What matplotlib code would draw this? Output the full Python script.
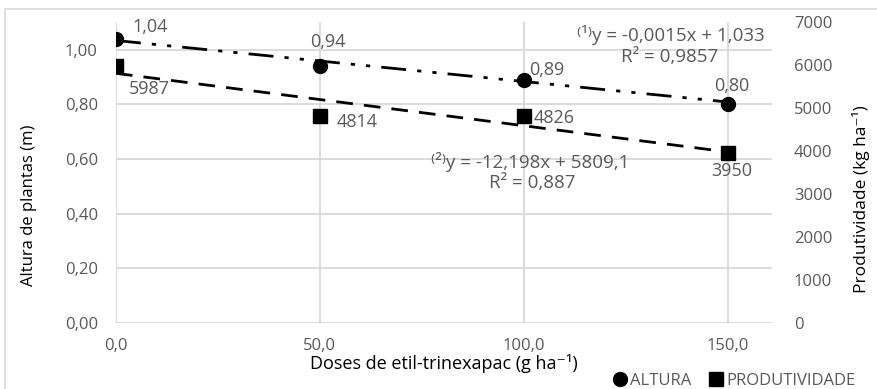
import matplotlib
matplotlib.use("Agg")
import matplotlib.pyplot as plt
from matplotlib.lines import Line2D
from matplotlib.patches import Rectangle

plt.rcParams['font.family'] = ['Open Sans', 'DejaVu Sans']

# dados
doses = [0, 50, 100, 150]
altura = [1.04, 0.94, 0.89, 0.80]
produtividade = [5987, 4814, 4826, 3950]
altura_lbl = ["1,04", "0,94", "0,89", "0,80"]
prod_lbl = ["5987", "4814", "4826", "3950"]
# tendências lineares (coeficientes da figura)
coef_alt = (-0.0015, 1.033)
coef_prod = (-12.198, 5809.1)

cinza = '#595959'
grade = '#d9d9d9'

fig = plt.figure(figsize=(8.78, 3.89), dpi=100)
fig.patches.append(Rectangle((5 / 878, -0.1), 1.2, 1 - 9 / 389 + 0.1,
                             transform=fig.transFigure, fill=False,
                             edgecolor=grade, lw=1.2))
ax = fig.add_axes([0.132, 0.170, 0.747, 0.773])
ax2 = ax.twinx()

ax.set_xlim(0, 160.8)
ax.set_ylim(0, 1.10)
ax2.set_ylim(0, 7000)

ax.set_xticks([0, 50, 100, 150])
ax.set_xticklabels(["0,0", "50,0", "100,0", "150,0"])
ax.set_yticks([0, 0.2, 0.4, 0.6, 0.8, 1.0])
ax.set_yticklabels(["0,00", "0,20", "0,40", "0,60", "0,80", "1,00"])
ax2.set_yticks(range(0, 7001, 1000))

for a in (ax, ax2):
    for s in a.spines.values():
        s.set_visible(False)
    a.tick_params(length=0, labelsize=12, colors=cinza)
ax.tick_params(axis='x', pad=11)
ax.tick_params(axis='y', pad=13)
ax2.tick_params(axis='y', pad=16)

ax.grid(True, color=grade, lw=1.3)
ax.set_axisbelow(True)

# linhas de tendência
xs = [doses[0], doses[-1]]
ax.plot(xs, [coef_alt[0] * x + coef_alt[1] for x in xs], color='black',
        lw=2, dashes=(9, 4, 1.5, 4, 1.5, 4), zorder=3)
ax2.plot(xs, [coef_prod[0] * x + coef_prod[1] for x in xs], color='black',
         lw=2, dashes=(6, 4), zorder=3)

ax.plot(doses, altura, 'o', color='black', ms=10, ls='none', zorder=4)
ax2.plot(doses, produtividade, 's', color='black', ms=10, ls='none', zorder=4)

# rótulos de dados
alt_off = [(12, 8), (6, 17), (4, 7), (3, 13)]
alt_ha = ['left', 'center', 'left', 'center']
for x, y, t, o, h in zip(doses, altura, altura_lbl, alt_off, alt_ha):
    ax.annotate(t, (x, y), xytext=o, textcoords='offset points', ha=h,
                va='center', fontsize=13, color=cinza)
prod_off = [(9, -17), (12, -4), (7, -2), (3, -13)]
prod_ha = ['left', 'left', 'left', 'center']
for x, y, t, o, h in zip(doses, produtividade, prod_lbl, prod_off, prod_ha):
    ax2.annotate(t, (x, y), xytext=o, textcoords='offset points', ha=h,
                 va='center', fontsize=13, color=cinza)

# equações
ax2.text(136, 6698, "⁽¹⁾y = -0,0015x + 1,033", ha='center',
         va='center', fontsize=13.5, color=cinza)
ax2.text(135.8, 6186, "R² = 0,9857", ha='center', va='center',
         fontsize=13.5, color=cinza)
ax2.text(101.5, 3744, "⁽²⁾y = -12,198x + 5809,1", ha='center', va='center',
         fontsize=13.5, color=cinza)
ax2.text(102.2, 3256, "R² = 0,887", ha='center', va='center', fontsize=13.5,
         color=cinza)

ax.set_ylabel("Altura de plantas (m)", fontsize=12, color='black')
ax.yaxis.set_label_coords(-0.120, 0.39)
ax2.set_ylabel("Produtividade (kg ha⁻¹)", fontsize=12.5, color='black')
ax2.yaxis.set_label_coords(1.123, 0.41)
ax.set_xlabel("Doses de etil-trinexapac (g ha⁻¹)", fontsize=13,
              color='black', labelpad=0)

handles = [Line2D([], [], marker='o', color='black', ls='none', ms=10),
           Line2D([], [], marker='s', color='black', ls='none', ms=10)]
fig.legend(handles, ["ALTURA", "PRODUTIVIDADE"], loc='center right',
           bbox_to_anchor=(864 / 878, 1 - 381 / 389), ncol=2, frameon=False,
           fontsize=12, labelcolor=cinza, handletextpad=0.1,
           columnspacing=1.0, handlelength=1.0, borderpad=0)

fig.savefig("out.png", dpi=100)
